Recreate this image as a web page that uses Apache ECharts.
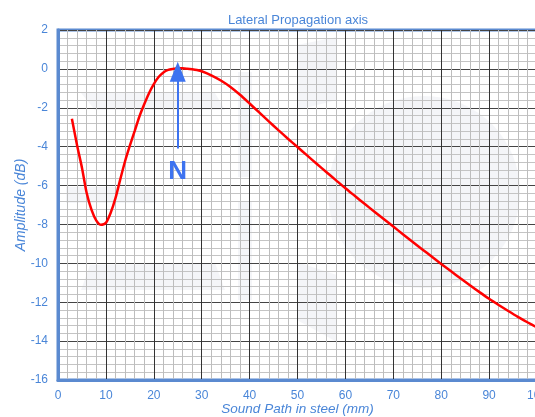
<!DOCTYPE html>
<html><head><meta charset="utf-8">
<script src="https://cdn.jsdelivr.net/npm/echarts@6/dist/echarts.min.js"></script>
<style>html,body{margin:0;padding:0;background:#fff}#c{width:535px;height:417px}</style>
</head><body><div id="c"></div>
<script>
const soundPath = [2.9,4,5,6,7,8,9,10,11,12,13,14,15,16,17,18,19,20,21,22,23,24,25,26,27,28,29,30,32,34,36,38,40,42,44,46,48,50,52,54,56,58,60,62,64,66,68,70,72,74,76,78,80,82,84,86,88,90,92,94,96,98,100];
const amplitude = [-2.57,-3.95,-5.08,-6.4,-7.25,-7.8,-8.02,-7.92,-7.4,-6.65,-5.68,-4.75,-3.95,-3.2,-2.45,-1.82,-1.25,-0.78,-0.42,-0.18,-0.05,0.0,0.03,0.03,0.01,-0.02,-0.06,-0.12,-0.33,-0.6,-0.93,-1.33,-1.78,-2.24,-2.7,-3.15,-3.59,-4.02,-4.45,-4.88,-5.3,-5.72,-6.14,-6.54,-6.94,-7.33,-7.72,-8.11,-8.5,-8.89,-9.27,-9.65,-10.03,-10.4,-10.77,-11.13,-11.48,-11.82,-12.14,-12.45,-12.75,-13.03,-13.3];
const arrowX = 25, arrowFrom = -4.1, arrowTo = -0.15;
const labelN = 'N', labelNY = -5.3;
const titleText = 'Lateral Propagation axis';
const xName = 'Sound Path in steel (mm)';
const yName = 'Amplitude (dB)';

const blue = '#4a86d8';
const wm = 'rgba(205,209,224,0.22)';
const chart = echarts.init(document.getElementById('c'));
chart.setOption({
  animation: false,
  backgroundColor: '#fff',
  title: { text: titleText, left: 293, top: 9, textAlign: 'center',
    textStyle: { color: blue, fontSize: 13, fontWeight: 'normal', fontFamily: 'Liberation Sans, Arial' } },
  graphic: [
    { type: 'circle', z: -10, shape: { cx: 424, cy: 192, r: 96 }, style: { fill: wm } },
    { type: 'polygon', z: -10, shape: { points: [[81, 93], [215, 93], [225, 110], [95, 110]] }, style: { fill: wm } },
    { type: 'rect', z: -10, shape: { x: 66, y: 187, width: 90, height: 16 }, style: { fill: wm } },
    { type: 'polygon', z: -10, shape: { points: [[90, 265], [215, 263], [225, 290], [81, 290]] }, style: { fill: wm } },
    { type: 'rect', z: -10, shape: { x: 238, y: 72, width: 14, height: 105 }, style: { fill: wm } },
    { type: 'rect', z: -10, shape: { x: 238, y: 202, width: 14, height: 98 }, style: { fill: wm } },
    { type: 'polygon', z: -10, shape: { points: [[297, 45], [337, 37], [337, 100], [297, 110]] }, style: { fill: wm } },
    { type: 'polygon', z: -10, shape: { points: [[297, 262], [337, 275], [337, 342], [297, 320]] }, style: { fill: wm } }
  ],
  grid: { left: 58, top: 30, width: 479, height: 350, outerBoundsMode: 'none', containLabel: false,
    show: true, borderColor: '#5b8ad0', borderWidth: 3, backgroundColor: 'transparent' },
  xAxis: {
    type: 'value', min: 0, max: 100, interval: 10,
    name: xName, nameLocation: 'middle', nameGap: 22, nameMoveOverlap: false,
    nameTextStyle: { color: blue, fontStyle: 'italic', fontSize: 13.5, fontFamily: 'Liberation Sans, Arial' },
    axisLine: { show: true, onZero: false, lineStyle: { color: '#5b8ad0', width: 3 } },
    axisTick: { show: false },
    axisLabel: { color: blue, fontSize: 12, margin: 10, fontFamily: 'Liberation Sans, Arial' },
    splitLine: { show: true, lineStyle: { color: '#333', width: 1 } },
    minorTick: { show: false, splitNumber: 5 },
    minorSplitLine: { show: true, lineStyle: { color: '#bdbdbd', width: 1 } }
  },
  yAxis: {
    type: 'value', min: -16, max: 2, interval: 2,
    name: yName, nameLocation: 'middle', nameGap: 30, nameRotate: 90, nameMoveOverlap: false,
    nameTextStyle: { color: blue, fontStyle: 'italic', fontSize: 14, fontFamily: 'Liberation Sans, Arial' },
    axisLine: { show: true, onZero: false, lineStyle: { color: '#5b8ad0', width: 3 } },
    axisTick: { show: false },
    axisLabel: { color: blue, fontSize: 12, margin: 10, fontFamily: 'Liberation Sans, Arial' },
    splitLine: { show: true, lineStyle: { color: '#444', width: 1 } },
    minorTick: { show: false, splitNumber: 5 },
    minorSplitLine: { show: true, lineStyle: { color: '#c4c4c4', width: 1 } }
  },
  series: [{
    type: 'line', smooth: 0.25, symbol: 'none',
    data: soundPath.map((x, i) => [x, amplitude[i]]),
    lineStyle: { color: '#ff0000', width: 2.5 },
    markLine: {
      silent: true, symbol: ['none', 'triangle'], symbolSize: [16, 20],
      lineStyle: { color: '#3d73f0', width: 2, type: 'solid' },
      label: { show: false },
      data: [[{ coord: [arrowX, arrowFrom] }, { coord: [arrowX, arrowTo] }]]
    },
    markPoint: {
      silent: true, symbol: 'circle', symbolSize: 1,
      itemStyle: { color: 'transparent' },
      label: { show: true, formatter: labelN, color: '#3d73f0', fontSize: 26, fontWeight: 'bold', fontFamily: 'Liberation Sans, Arial', position: 'inside' },
      data: [{ coord: [arrowX, labelNY] }]
    }
  }]
});
</script></body></html>
